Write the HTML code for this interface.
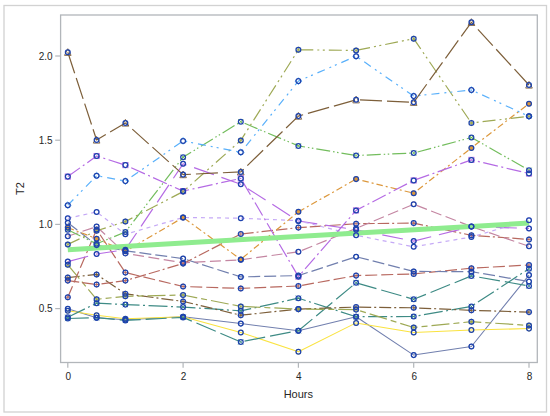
<!DOCTYPE html>
<html lang="en">
<head>
<meta charset="utf-8">
<title>T2 by Hours</title>
<style>
html,body{margin:0;padding:0;background:#fff;}
body{width:550px;height:416px;overflow:hidden;}
svg{display:block;}
</style>
</head>
<body>
<svg width="550" height="416" viewBox="0 0 550 416">
<rect x="0" y="0" width="550" height="416" fill="#ffffff"/>
<rect x="4" y="5.5" width="542.5" height="406.5" fill="#ffffff" stroke="#d2d2d2" stroke-width="1.3"/>
<g id="series" fill="none" stroke-linejoin="round">
<polyline points="67.8,308.8 96.6,317.7 125.4,319.7 183.1,316.7 240.8,323.6 298.4,330.7 356.1,316.7 413.7,355.1 471.4,346.5 529.0,275.1" stroke="#717fae" stroke-width="1.05"/>
<polyline points="67.8,310.8 96.6,315.2 125.4,318.7 183.1,316.7 240.8,332.5 298.4,351.7 356.1,322.9 413.7,332.5 471.4,330.0 529.0,328.6" stroke="#fae340" stroke-width="1.05"/>
<polyline points="67.8,318.5 96.6,317.7 125.4,320.4 183.1,317.4 240.8,341.9 298.4,330.7 356.1,282.8 413.7,299.3 471.4,275.9 529.0,285.9" stroke="#3e8b85" stroke-width="1.2" stroke-dasharray="21 5"/>
<polyline points="67.8,317.2 96.6,303.2 125.4,304.6 183.1,307.1 240.8,310.8 298.4,298.2 356.1,316.7 413.7,316.5 471.4,306.4 529.0,268.7" stroke="#3e8b85" stroke-width="1.2" stroke-dasharray="19 3.5 2 3.5"/>
<polyline points="67.8,277.6 96.6,274.4 125.4,293.8 183.1,301.4 240.8,315.2 298.4,309.1 356.1,307.1 413.7,307.8 471.4,310.3 529.0,312.1" stroke="#7d5f3a" stroke-width="1.2" stroke-dasharray="12 3 2 3"/>
<polyline points="67.8,264.8 96.6,299.3 125.4,296.3 183.1,295.0 240.8,306.4 298.4,309.1 356.1,309.6 413.7,327.5 471.4,321.7 529.0,325.4" stroke="#9ea955" stroke-width="1.2" stroke-dasharray="18 4 6 4"/>
<polyline points="67.8,297.3 96.6,229.5 125.4,272.6 183.1,286.5 240.8,288.4 298.4,286.0 356.1,275.6 413.7,273.9 471.4,268.2 529.0,265.0" stroke="#b86960" stroke-width="1.2" stroke-dasharray="12 4"/>
<polyline points="67.8,222.7 96.6,245.1 125.4,250.8 183.1,258.6 240.8,276.9 298.4,275.6 356.1,256.7 413.7,271.4 471.4,271.7 529.0,281.5" stroke="#717fae" stroke-width="1.2" stroke-dasharray="12 4"/>
<polyline points="67.8,280.6 96.6,284.5 125.4,280.6 183.1,263.6 240.8,234.0 298.4,227.6 356.1,223.7 413.7,223.1 471.4,235.3 529.0,239.4" stroke="#b86960" stroke-width="1.2" stroke-dasharray="11.5 3 11.5 3 2 3"/>
<polyline points="67.8,236.2 96.6,226.6 125.4,253.4 183.1,262.8 240.8,259.8 298.4,251.8 356.1,228.4 413.7,204.2 471.4,226.6 529.0,246.3" stroke="#c486a2" stroke-width="1.2" stroke-dasharray="11 4.5"/>
<polyline points="67.8,261.6 96.6,254.0 125.4,249.7 183.1,163.8 240.8,184.2 298.4,221.0 356.1,229.8 413.7,241.1 471.4,226.6 529.0,228.4" stroke="#b56be4" stroke-width="1.2" stroke-dasharray="21 8"/>
<polyline points="67.8,218.3 96.6,211.9 125.4,234.3 183.1,217.5 240.8,218.2 298.4,220.7 356.1,235.3 413.7,246.8 471.4,237.0 529.0,220.2" stroke="#c5a9f6" stroke-width="1.2" stroke-dasharray="4 4"/>
<polyline points="67.8,227.6 96.6,238.7 125.4,251.3 183.1,217.5 240.8,259.4 298.4,211.8 356.1,179.1 413.7,193.2 471.4,147.9 529.0,103.7" stroke="#dc983d" stroke-width="1.2" stroke-dasharray="6.5 3 2 3"/>
<polyline points="67.8,229.8 96.6,243.8 125.4,232.0 183.1,157.2 240.8,121.7 298.4,145.9 356.1,155.5 413.7,153.0 471.4,137.5 529.0,170.2" stroke="#73bd5d" stroke-width="1.2" stroke-dasharray="14 3 1.5 2.5 1.5 3"/>
<polyline points="67.8,244.4 96.6,230.8 125.4,221.5 183.1,191.6 240.8,140.4 298.4,49.8 356.1,50.4 413.7,38.7 471.4,123.0 529.0,116.3" stroke="#9ea955" stroke-width="1.2" stroke-dasharray="13 4 2 3.5 2 4"/>
<polyline points="67.8,205.2 96.6,175.7 125.4,181.1 183.1,140.9 240.8,152.3 298.4,81.1 356.1,56.2 413.7,96.1 471.4,90.0 529.0,116.3" stroke="#59b0fb" stroke-width="1.2" stroke-dasharray="8 5 2 4 2 5"/>
<polyline points="67.8,52.3 96.6,140.0 125.4,123.0 183.1,174.6 240.8,171.9 298.4,116.1 356.1,99.8 413.7,102.3 471.4,22.3 529.0,85.0" stroke="#7d5f3a" stroke-width="1.2" stroke-dasharray="22 5"/>
<polyline points="67.8,176.6 96.6,156.0 125.4,165.1 183.1,191.1 240.8,178.4 298.4,276.6 356.1,210.4 413.7,180.4 471.4,159.9 529.0,173.5" stroke="#b56be4" stroke-width="1.2" stroke-dasharray="15 3.5 2 3.5"/>
</g>
<line x1="67.8" y1="249.7" x2="529.0" y2="223.1" stroke="#8fec8f" stroke-width="5" stroke-linecap="butt"/>
<g id="markers">
<circle cx="67.8" cy="308.8" r="2.4" fill="none" stroke="#717fae" stroke-width="0.9"/>
<circle cx="96.6" cy="317.7" r="2.4" fill="none" stroke="#717fae" stroke-width="0.9"/>
<circle cx="125.4" cy="319.7" r="2.4" fill="none" stroke="#717fae" stroke-width="0.9"/>
<circle cx="183.1" cy="316.7" r="2.4" fill="none" stroke="#717fae" stroke-width="0.9"/>
<circle cx="240.8" cy="323.6" r="2.4" fill="none" stroke="#717fae" stroke-width="0.9"/>
<circle cx="298.4" cy="330.7" r="2.4" fill="none" stroke="#717fae" stroke-width="0.9"/>
<circle cx="356.1" cy="316.7" r="2.4" fill="none" stroke="#717fae" stroke-width="0.9"/>
<circle cx="413.7" cy="355.1" r="2.4" fill="none" stroke="#717fae" stroke-width="0.9"/>
<circle cx="471.4" cy="346.5" r="2.4" fill="none" stroke="#717fae" stroke-width="0.9"/>
<circle cx="529.0" cy="275.1" r="2.4" fill="none" stroke="#717fae" stroke-width="0.9"/>
<circle cx="67.8" cy="310.8" r="2.4" fill="none" stroke="#fae340" stroke-width="0.9"/>
<circle cx="96.6" cy="315.2" r="2.4" fill="none" stroke="#fae340" stroke-width="0.9"/>
<circle cx="125.4" cy="318.7" r="2.4" fill="none" stroke="#fae340" stroke-width="0.9"/>
<circle cx="183.1" cy="316.7" r="2.4" fill="none" stroke="#fae340" stroke-width="0.9"/>
<circle cx="240.8" cy="332.5" r="2.4" fill="none" stroke="#fae340" stroke-width="0.9"/>
<circle cx="298.4" cy="351.7" r="2.4" fill="none" stroke="#fae340" stroke-width="0.9"/>
<circle cx="356.1" cy="322.9" r="2.4" fill="none" stroke="#fae340" stroke-width="0.9"/>
<circle cx="413.7" cy="332.5" r="2.4" fill="none" stroke="#fae340" stroke-width="0.9"/>
<circle cx="471.4" cy="330.0" r="2.4" fill="none" stroke="#fae340" stroke-width="0.9"/>
<circle cx="529.0" cy="328.6" r="2.4" fill="none" stroke="#fae340" stroke-width="0.9"/>
<path d="M65.2 315.9L70.4 321.1M65.2 321.1L70.4 315.9" stroke="#3e8b85" stroke-width="0.9" fill="none"/>
<path d="M94.0 315.1L99.2 320.3M94.0 320.3L99.2 315.1" stroke="#3e8b85" stroke-width="0.9" fill="none"/>
<path d="M122.8 317.8L128.0 323.0M122.8 323.0L128.0 317.8" stroke="#3e8b85" stroke-width="0.9" fill="none"/>
<path d="M180.5 314.8L185.7 320.0M180.5 320.0L185.7 314.8" stroke="#3e8b85" stroke-width="0.9" fill="none"/>
<path d="M238.2 339.3L243.3 344.5M238.2 344.5L243.3 339.3" stroke="#3e8b85" stroke-width="0.9" fill="none"/>
<path d="M295.8 328.1L301.0 333.3M295.8 333.3L301.0 328.1" stroke="#3e8b85" stroke-width="0.9" fill="none"/>
<path d="M353.4 280.2L358.7 285.4M353.4 285.4L358.7 280.2" stroke="#3e8b85" stroke-width="0.9" fill="none"/>
<path d="M411.1 296.7L416.3 301.9M411.1 301.9L416.3 296.7" stroke="#3e8b85" stroke-width="0.9" fill="none"/>
<path d="M468.8 273.3L474.0 278.5M468.8 278.5L474.0 273.3" stroke="#3e8b85" stroke-width="0.9" fill="none"/>
<path d="M526.4 283.3L531.6 288.5M526.4 288.5L531.6 283.3" stroke="#3e8b85" stroke-width="0.9" fill="none"/>
<path d="M65.2 314.6L70.4 319.8M65.2 319.8L70.4 314.6" stroke="#3e8b85" stroke-width="0.9" fill="none"/>
<path d="M94.0 300.6L99.2 305.8M94.0 305.8L99.2 300.6" stroke="#3e8b85" stroke-width="0.9" fill="none"/>
<path d="M122.8 302.0L128.0 307.2M122.8 307.2L128.0 302.0" stroke="#3e8b85" stroke-width="0.9" fill="none"/>
<path d="M180.5 304.5L185.7 309.7M180.5 309.7L185.7 304.5" stroke="#3e8b85" stroke-width="0.9" fill="none"/>
<path d="M238.2 308.2L243.3 313.4M238.2 313.4L243.3 308.2" stroke="#3e8b85" stroke-width="0.9" fill="none"/>
<path d="M295.8 295.6L301.0 300.8M295.8 300.8L301.0 295.6" stroke="#3e8b85" stroke-width="0.9" fill="none"/>
<path d="M353.4 314.1L358.7 319.3M353.4 319.3L358.7 314.1" stroke="#3e8b85" stroke-width="0.9" fill="none"/>
<path d="M411.1 313.9L416.3 319.1M411.1 319.1L416.3 313.9" stroke="#3e8b85" stroke-width="0.9" fill="none"/>
<path d="M468.8 303.8L474.0 309.0M468.8 309.0L474.0 303.8" stroke="#3e8b85" stroke-width="0.9" fill="none"/>
<path d="M526.4 266.1L531.6 271.3M526.4 271.3L531.6 266.1" stroke="#3e8b85" stroke-width="0.9" fill="none"/>
<path d="M64.7 277.6H70.9M67.8 274.5V280.7" stroke="#7d5f3a" stroke-width="0.9" fill="none"/>
<path d="M93.5 274.4H99.7M96.6 271.3V277.5" stroke="#7d5f3a" stroke-width="0.9" fill="none"/>
<path d="M122.3 293.8H128.5M125.4 290.7V296.9" stroke="#7d5f3a" stroke-width="0.9" fill="none"/>
<path d="M180.0 301.4H186.2M183.1 298.3V304.5" stroke="#7d5f3a" stroke-width="0.9" fill="none"/>
<path d="M237.7 315.2H243.8M240.8 312.1V318.3" stroke="#7d5f3a" stroke-width="0.9" fill="none"/>
<path d="M295.3 309.1H301.5M298.4 306.0V312.2" stroke="#7d5f3a" stroke-width="0.9" fill="none"/>
<path d="M352.9 307.1H359.2M356.1 304.0V310.2" stroke="#7d5f3a" stroke-width="0.9" fill="none"/>
<path d="M410.6 307.8H416.8M413.7 304.7V310.9" stroke="#7d5f3a" stroke-width="0.9" fill="none"/>
<path d="M468.2 310.3H474.5M471.4 307.2V313.4" stroke="#7d5f3a" stroke-width="0.9" fill="none"/>
<path d="M525.9 312.1H532.1M529.0 309.0V315.2" stroke="#7d5f3a" stroke-width="0.9" fill="none"/>
<path d="M67.8 261.7V267.9M65.1 263.3L70.5 266.4M65.1 266.4L70.5 263.3" stroke="#9ea955" stroke-width="0.9" fill="none"/>
<path d="M96.6 296.2V302.4M93.9 297.8L99.3 300.9M93.9 300.9L99.3 297.8" stroke="#9ea955" stroke-width="0.9" fill="none"/>
<path d="M125.4 293.2V299.4M122.7 294.8L128.1 297.9M122.7 297.9L128.1 294.8" stroke="#9ea955" stroke-width="0.9" fill="none"/>
<path d="M183.1 291.9V298.1M180.4 293.4L185.8 296.5M180.4 296.5L185.8 293.4" stroke="#9ea955" stroke-width="0.9" fill="none"/>
<path d="M240.8 303.3V309.5M238.1 304.9L243.4 308.0M238.1 308.0L243.4 304.9" stroke="#9ea955" stroke-width="0.9" fill="none"/>
<path d="M298.4 306.0V312.2M295.7 307.6L301.1 310.7M295.7 310.7L301.1 307.6" stroke="#9ea955" stroke-width="0.9" fill="none"/>
<path d="M356.1 306.5V312.7M353.4 308.1L358.8 311.2M353.4 311.2L358.8 308.1" stroke="#9ea955" stroke-width="0.9" fill="none"/>
<path d="M413.7 324.4V330.6M411.0 325.9L416.4 329.0M411.0 329.0L416.4 325.9" stroke="#9ea955" stroke-width="0.9" fill="none"/>
<path d="M471.4 318.6V324.8M468.7 320.2L474.1 323.3M468.7 323.3L474.1 320.2" stroke="#9ea955" stroke-width="0.9" fill="none"/>
<path d="M529.0 322.3V328.5M526.3 323.9L531.7 327.0M526.3 327.0L531.7 323.9" stroke="#9ea955" stroke-width="0.9" fill="none"/>
<path d="M64.7 297.3H70.9M67.8 294.2V300.4" stroke="#b86960" stroke-width="0.9" fill="none"/>
<path d="M93.5 229.5H99.7M96.6 226.4V232.6" stroke="#b86960" stroke-width="0.9" fill="none"/>
<path d="M122.3 272.6H128.5M125.4 269.5V275.7" stroke="#b86960" stroke-width="0.9" fill="none"/>
<path d="M180.0 286.5H186.2M183.1 283.4V289.6" stroke="#b86960" stroke-width="0.9" fill="none"/>
<path d="M237.7 288.4H243.8M240.8 285.3V291.5" stroke="#b86960" stroke-width="0.9" fill="none"/>
<path d="M295.3 286.0H301.5M298.4 282.9V289.1" stroke="#b86960" stroke-width="0.9" fill="none"/>
<path d="M352.9 275.6H359.2M356.1 272.5V278.7" stroke="#b86960" stroke-width="0.9" fill="none"/>
<path d="M410.6 273.9H416.8M413.7 270.8V277.0" stroke="#b86960" stroke-width="0.9" fill="none"/>
<path d="M468.2 268.2H474.5M471.4 265.1V271.3" stroke="#b86960" stroke-width="0.9" fill="none"/>
<path d="M525.9 265.0H532.1M529.0 261.9V268.1" stroke="#b86960" stroke-width="0.9" fill="none"/>
<circle cx="67.8" cy="222.7" r="2.4" fill="none" stroke="#717fae" stroke-width="0.9"/>
<circle cx="96.6" cy="245.1" r="2.4" fill="none" stroke="#717fae" stroke-width="0.9"/>
<circle cx="125.4" cy="250.8" r="2.4" fill="none" stroke="#717fae" stroke-width="0.9"/>
<circle cx="183.1" cy="258.6" r="2.4" fill="none" stroke="#717fae" stroke-width="0.9"/>
<circle cx="240.8" cy="276.9" r="2.4" fill="none" stroke="#717fae" stroke-width="0.9"/>
<circle cx="298.4" cy="275.6" r="2.4" fill="none" stroke="#717fae" stroke-width="0.9"/>
<circle cx="356.1" cy="256.7" r="2.4" fill="none" stroke="#717fae" stroke-width="0.9"/>
<circle cx="413.7" cy="271.4" r="2.4" fill="none" stroke="#717fae" stroke-width="0.9"/>
<circle cx="471.4" cy="271.7" r="2.4" fill="none" stroke="#717fae" stroke-width="0.9"/>
<circle cx="529.0" cy="281.5" r="2.4" fill="none" stroke="#717fae" stroke-width="0.9"/>
<path d="M64.7 280.6H70.9M67.8 277.5V283.7" stroke="#b86960" stroke-width="0.9" fill="none"/>
<path d="M93.5 284.5H99.7M96.6 281.4V287.6" stroke="#b86960" stroke-width="0.9" fill="none"/>
<path d="M122.3 280.6H128.5M125.4 277.5V283.7" stroke="#b86960" stroke-width="0.9" fill="none"/>
<path d="M180.0 263.6H186.2M183.1 260.5V266.7" stroke="#b86960" stroke-width="0.9" fill="none"/>
<path d="M237.7 234.0H243.8M240.8 230.9V237.1" stroke="#b86960" stroke-width="0.9" fill="none"/>
<path d="M295.3 227.6H301.5M298.4 224.5V230.7" stroke="#b86960" stroke-width="0.9" fill="none"/>
<path d="M352.9 223.7H359.2M356.1 220.6V226.8" stroke="#b86960" stroke-width="0.9" fill="none"/>
<path d="M410.6 223.1H416.8M413.7 220.0V226.2" stroke="#b86960" stroke-width="0.9" fill="none"/>
<path d="M468.2 235.3H474.5M471.4 232.2V238.4" stroke="#b86960" stroke-width="0.9" fill="none"/>
<path d="M525.9 239.4H532.1M529.0 236.3V242.5" stroke="#b86960" stroke-width="0.9" fill="none"/>
<circle cx="67.8" cy="236.2" r="2.4" fill="none" stroke="#c486a2" stroke-width="0.9"/>
<circle cx="96.6" cy="226.6" r="2.4" fill="none" stroke="#c486a2" stroke-width="0.9"/>
<circle cx="125.4" cy="253.4" r="2.4" fill="none" stroke="#c486a2" stroke-width="0.9"/>
<circle cx="183.1" cy="262.8" r="2.4" fill="none" stroke="#c486a2" stroke-width="0.9"/>
<circle cx="240.8" cy="259.8" r="2.4" fill="none" stroke="#c486a2" stroke-width="0.9"/>
<circle cx="298.4" cy="251.8" r="2.4" fill="none" stroke="#c486a2" stroke-width="0.9"/>
<circle cx="356.1" cy="228.4" r="2.4" fill="none" stroke="#c486a2" stroke-width="0.9"/>
<circle cx="413.7" cy="204.2" r="2.4" fill="none" stroke="#c486a2" stroke-width="0.9"/>
<circle cx="471.4" cy="226.6" r="2.4" fill="none" stroke="#c486a2" stroke-width="0.9"/>
<circle cx="529.0" cy="246.3" r="2.4" fill="none" stroke="#c486a2" stroke-width="0.9"/>
<circle cx="67.8" cy="261.6" r="2.4" fill="none" stroke="#b56be4" stroke-width="0.9"/>
<circle cx="96.6" cy="254.0" r="2.4" fill="none" stroke="#b56be4" stroke-width="0.9"/>
<circle cx="125.4" cy="249.7" r="2.4" fill="none" stroke="#b56be4" stroke-width="0.9"/>
<circle cx="183.1" cy="163.8" r="2.4" fill="none" stroke="#b56be4" stroke-width="0.9"/>
<circle cx="240.8" cy="184.2" r="2.4" fill="none" stroke="#b56be4" stroke-width="0.9"/>
<circle cx="298.4" cy="221.0" r="2.4" fill="none" stroke="#b56be4" stroke-width="0.9"/>
<circle cx="356.1" cy="229.8" r="2.4" fill="none" stroke="#b56be4" stroke-width="0.9"/>
<circle cx="413.7" cy="241.1" r="2.4" fill="none" stroke="#b56be4" stroke-width="0.9"/>
<circle cx="471.4" cy="226.6" r="2.4" fill="none" stroke="#b56be4" stroke-width="0.9"/>
<circle cx="529.0" cy="228.4" r="2.4" fill="none" stroke="#b56be4" stroke-width="0.9"/>
<circle cx="67.8" cy="218.3" r="2.4" fill="none" stroke="#c5a9f6" stroke-width="0.9"/>
<circle cx="96.6" cy="211.9" r="2.4" fill="none" stroke="#c5a9f6" stroke-width="0.9"/>
<circle cx="125.4" cy="234.3" r="2.4" fill="none" stroke="#c5a9f6" stroke-width="0.9"/>
<circle cx="183.1" cy="217.5" r="2.4" fill="none" stroke="#c5a9f6" stroke-width="0.9"/>
<circle cx="240.8" cy="218.2" r="2.4" fill="none" stroke="#c5a9f6" stroke-width="0.9"/>
<circle cx="298.4" cy="220.7" r="2.4" fill="none" stroke="#c5a9f6" stroke-width="0.9"/>
<circle cx="356.1" cy="235.3" r="2.4" fill="none" stroke="#c5a9f6" stroke-width="0.9"/>
<circle cx="413.7" cy="246.8" r="2.4" fill="none" stroke="#c5a9f6" stroke-width="0.9"/>
<circle cx="471.4" cy="237.0" r="2.4" fill="none" stroke="#c5a9f6" stroke-width="0.9"/>
<circle cx="529.0" cy="220.2" r="2.4" fill="none" stroke="#c5a9f6" stroke-width="0.9"/>
<circle cx="67.8" cy="227.6" r="2.4" fill="#dc983d" stroke="#dc983d" stroke-width="0.9"/>
<circle cx="96.6" cy="238.7" r="2.4" fill="#dc983d" stroke="#dc983d" stroke-width="0.9"/>
<circle cx="125.4" cy="251.3" r="2.4" fill="#dc983d" stroke="#dc983d" stroke-width="0.9"/>
<circle cx="183.1" cy="217.5" r="2.4" fill="#dc983d" stroke="#dc983d" stroke-width="0.9"/>
<circle cx="240.8" cy="259.4" r="2.4" fill="#dc983d" stroke="#dc983d" stroke-width="0.9"/>
<circle cx="298.4" cy="211.8" r="2.4" fill="#dc983d" stroke="#dc983d" stroke-width="0.9"/>
<circle cx="356.1" cy="179.1" r="2.4" fill="#dc983d" stroke="#dc983d" stroke-width="0.9"/>
<circle cx="413.7" cy="193.2" r="2.4" fill="#dc983d" stroke="#dc983d" stroke-width="0.9"/>
<circle cx="471.4" cy="147.9" r="2.4" fill="#dc983d" stroke="#dc983d" stroke-width="0.9"/>
<circle cx="529.0" cy="103.7" r="2.4" fill="#dc983d" stroke="#dc983d" stroke-width="0.9"/>
<path d="M65.2 227.2L70.4 232.4M65.2 232.4L70.4 227.2" stroke="#73bd5d" stroke-width="0.9" fill="none"/>
<path d="M94.0 241.2L99.2 246.4M94.0 246.4L99.2 241.2" stroke="#73bd5d" stroke-width="0.9" fill="none"/>
<path d="M122.8 229.4L128.0 234.6M122.8 234.6L128.0 229.4" stroke="#73bd5d" stroke-width="0.9" fill="none"/>
<path d="M180.5 154.6L185.7 159.8M180.5 159.8L185.7 154.6" stroke="#73bd5d" stroke-width="0.9" fill="none"/>
<path d="M238.2 119.1L243.3 124.3M238.2 124.3L243.3 119.1" stroke="#73bd5d" stroke-width="0.9" fill="none"/>
<path d="M295.8 143.3L301.0 148.5M295.8 148.5L301.0 143.3" stroke="#73bd5d" stroke-width="0.9" fill="none"/>
<path d="M353.4 152.9L358.7 158.1M353.4 158.1L358.7 152.9" stroke="#73bd5d" stroke-width="0.9" fill="none"/>
<path d="M411.1 150.4L416.3 155.6M411.1 155.6L416.3 150.4" stroke="#73bd5d" stroke-width="0.9" fill="none"/>
<path d="M468.8 134.9L474.0 140.1M468.8 140.1L474.0 134.9" stroke="#73bd5d" stroke-width="0.9" fill="none"/>
<path d="M526.4 167.6L531.6 172.8M526.4 172.8L531.6 167.6" stroke="#73bd5d" stroke-width="0.9" fill="none"/>
<path d="M67.8 241.3V247.5M65.1 242.9L70.5 246.0M65.1 246.0L70.5 242.9" stroke="#9ea955" stroke-width="0.9" fill="none"/>
<path d="M96.6 227.7V233.9M93.9 229.2L99.3 232.3M93.9 232.3L99.3 229.2" stroke="#9ea955" stroke-width="0.9" fill="none"/>
<path d="M125.4 218.4V224.6M122.7 220.0L128.1 223.1M122.7 223.1L128.1 220.0" stroke="#9ea955" stroke-width="0.9" fill="none"/>
<path d="M183.1 188.5V194.7M180.4 190.0L185.8 193.1M180.4 193.1L185.8 190.0" stroke="#9ea955" stroke-width="0.9" fill="none"/>
<path d="M240.8 137.3V143.5M238.1 138.8L243.4 141.9M238.1 141.9L243.4 138.8" stroke="#9ea955" stroke-width="0.9" fill="none"/>
<path d="M298.4 46.7V52.9M295.7 48.2L301.1 51.3M295.7 51.3L301.1 48.2" stroke="#9ea955" stroke-width="0.9" fill="none"/>
<path d="M356.1 47.3V53.5M353.4 48.9L358.8 52.0M353.4 52.0L358.8 48.9" stroke="#9ea955" stroke-width="0.9" fill="none"/>
<path d="M413.7 35.6V41.8M411.0 37.1L416.4 40.2M411.0 40.2L416.4 37.1" stroke="#9ea955" stroke-width="0.9" fill="none"/>
<path d="M471.4 119.9V126.1M468.7 121.5L474.1 124.6M468.7 124.6L474.1 121.5" stroke="#9ea955" stroke-width="0.9" fill="none"/>
<path d="M529.0 113.2V119.4M526.3 114.7L531.7 117.8M526.3 117.8L531.7 114.7" stroke="#9ea955" stroke-width="0.9" fill="none"/>
<path d="M67.8 201.8L71.2 205.2L67.8 208.6L64.4 205.2Z" stroke="#59b0fb" stroke-width="0.9" fill="none"/>
<path d="M96.6 172.3L100.0 175.7L96.6 179.1L93.2 175.7Z" stroke="#59b0fb" stroke-width="0.9" fill="none"/>
<path d="M125.4 177.7L128.8 181.1L125.4 184.5L122.0 181.1Z" stroke="#59b0fb" stroke-width="0.9" fill="none"/>
<path d="M183.1 137.5L186.5 140.9L183.1 144.3L179.7 140.9Z" stroke="#59b0fb" stroke-width="0.9" fill="none"/>
<path d="M240.8 148.9L244.2 152.3L240.8 155.7L237.3 152.3Z" stroke="#59b0fb" stroke-width="0.9" fill="none"/>
<path d="M298.4 77.7L301.8 81.1L298.4 84.5L295.0 81.1Z" stroke="#59b0fb" stroke-width="0.9" fill="none"/>
<path d="M356.1 52.8L359.4 56.2L356.1 59.6L352.7 56.2Z" stroke="#59b0fb" stroke-width="0.9" fill="none"/>
<path d="M413.7 92.7L417.1 96.1L413.7 99.5L410.3 96.1Z" stroke="#59b0fb" stroke-width="0.9" fill="none"/>
<path d="M471.4 86.6L474.8 90.0L471.4 93.4L468.0 90.0Z" stroke="#59b0fb" stroke-width="0.9" fill="none"/>
<path d="M529.0 112.9L532.4 116.3L529.0 119.7L525.6 116.3Z" stroke="#59b0fb" stroke-width="0.9" fill="none"/>
<path d="M67.8 48.7L71.1 55.4H64.5Z" stroke="#7d5f3a" stroke-width="0.9" fill="none"/>
<path d="M96.6 136.4L99.9 143.1H93.3Z" stroke="#7d5f3a" stroke-width="0.9" fill="none"/>
<path d="M125.4 119.4L128.8 126.1H122.1Z" stroke="#7d5f3a" stroke-width="0.9" fill="none"/>
<path d="M183.1 171.0L186.4 177.7H179.8Z" stroke="#7d5f3a" stroke-width="0.9" fill="none"/>
<path d="M240.8 168.3L244.1 175.0H237.4Z" stroke="#7d5f3a" stroke-width="0.9" fill="none"/>
<path d="M298.4 112.5L301.7 119.2H295.1Z" stroke="#7d5f3a" stroke-width="0.9" fill="none"/>
<path d="M356.1 96.2L359.4 102.9H352.8Z" stroke="#7d5f3a" stroke-width="0.9" fill="none"/>
<path d="M413.7 98.7L417.0 105.4H410.4Z" stroke="#7d5f3a" stroke-width="0.9" fill="none"/>
<path d="M471.4 18.7L474.7 25.4H468.1Z" stroke="#7d5f3a" stroke-width="0.9" fill="none"/>
<path d="M529.0 81.4L532.3 88.1H525.7Z" stroke="#7d5f3a" stroke-width="0.9" fill="none"/>
<rect x="65.2" y="174.0" width="5.2" height="5.2" stroke="#b56be4" stroke-width="0.9" fill="none"/>
<rect x="94.0" y="153.4" width="5.2" height="5.2" stroke="#b56be4" stroke-width="0.9" fill="none"/>
<rect x="122.8" y="162.5" width="5.2" height="5.2" stroke="#b56be4" stroke-width="0.9" fill="none"/>
<rect x="180.5" y="188.5" width="5.2" height="5.2" stroke="#b56be4" stroke-width="0.9" fill="none"/>
<rect x="238.2" y="175.8" width="5.2" height="5.2" stroke="#b56be4" stroke-width="0.9" fill="none"/>
<rect x="295.8" y="274.0" width="5.2" height="5.2" stroke="#b56be4" stroke-width="0.9" fill="none"/>
<rect x="353.4" y="207.8" width="5.2" height="5.2" stroke="#b56be4" stroke-width="0.9" fill="none"/>
<rect x="411.1" y="177.8" width="5.2" height="5.2" stroke="#b56be4" stroke-width="0.9" fill="none"/>
<rect x="468.8" y="157.3" width="5.2" height="5.2" stroke="#b56be4" stroke-width="0.9" fill="none"/>
<rect x="526.4" y="170.9" width="5.2" height="5.2" stroke="#b56be4" stroke-width="0.9" fill="none"/>
</g>
<g id="scatter" fill="none" stroke="#1d43ad" stroke-width="1.25">
<circle cx="67.8" cy="308.8" r="2.4"/>
<circle cx="96.6" cy="317.7" r="2.4"/>
<circle cx="125.4" cy="319.7" r="2.4"/>
<circle cx="183.1" cy="316.7" r="2.4"/>
<circle cx="240.8" cy="323.6" r="2.4"/>
<circle cx="298.4" cy="330.7" r="2.4"/>
<circle cx="356.1" cy="316.7" r="2.4"/>
<circle cx="413.7" cy="355.1" r="2.4"/>
<circle cx="471.4" cy="346.5" r="2.4"/>
<circle cx="529.0" cy="275.1" r="2.4"/>
<circle cx="67.8" cy="310.8" r="2.4"/>
<circle cx="96.6" cy="315.2" r="2.4"/>
<circle cx="125.4" cy="318.7" r="2.4"/>
<circle cx="183.1" cy="316.7" r="2.4"/>
<circle cx="240.8" cy="332.5" r="2.4"/>
<circle cx="298.4" cy="351.7" r="2.4"/>
<circle cx="356.1" cy="322.9" r="2.4"/>
<circle cx="413.7" cy="332.5" r="2.4"/>
<circle cx="471.4" cy="330.0" r="2.4"/>
<circle cx="529.0" cy="328.6" r="2.4"/>
<circle cx="67.8" cy="318.5" r="2.4"/>
<circle cx="96.6" cy="317.7" r="2.4"/>
<circle cx="125.4" cy="320.4" r="2.4"/>
<circle cx="183.1" cy="317.4" r="2.4"/>
<circle cx="240.8" cy="341.9" r="2.4"/>
<circle cx="298.4" cy="330.7" r="2.4"/>
<circle cx="356.1" cy="282.8" r="2.4"/>
<circle cx="413.7" cy="299.3" r="2.4"/>
<circle cx="471.4" cy="275.9" r="2.4"/>
<circle cx="529.0" cy="285.9" r="2.4"/>
<circle cx="67.8" cy="317.2" r="2.4"/>
<circle cx="96.6" cy="303.2" r="2.4"/>
<circle cx="125.4" cy="304.6" r="2.4"/>
<circle cx="183.1" cy="307.1" r="2.4"/>
<circle cx="240.8" cy="310.8" r="2.4"/>
<circle cx="298.4" cy="298.2" r="2.4"/>
<circle cx="356.1" cy="316.7" r="2.4"/>
<circle cx="413.7" cy="316.5" r="2.4"/>
<circle cx="471.4" cy="306.4" r="2.4"/>
<circle cx="529.0" cy="268.7" r="2.4"/>
<circle cx="67.8" cy="277.6" r="2.4"/>
<circle cx="96.6" cy="274.4" r="2.4"/>
<circle cx="125.4" cy="293.8" r="2.4"/>
<circle cx="183.1" cy="301.4" r="2.4"/>
<circle cx="240.8" cy="315.2" r="2.4"/>
<circle cx="298.4" cy="309.1" r="2.4"/>
<circle cx="356.1" cy="307.1" r="2.4"/>
<circle cx="413.7" cy="307.8" r="2.4"/>
<circle cx="471.4" cy="310.3" r="2.4"/>
<circle cx="529.0" cy="312.1" r="2.4"/>
<circle cx="67.8" cy="264.8" r="2.4"/>
<circle cx="96.6" cy="299.3" r="2.4"/>
<circle cx="125.4" cy="296.3" r="2.4"/>
<circle cx="183.1" cy="295.0" r="2.4"/>
<circle cx="240.8" cy="306.4" r="2.4"/>
<circle cx="298.4" cy="309.1" r="2.4"/>
<circle cx="356.1" cy="309.6" r="2.4"/>
<circle cx="413.7" cy="327.5" r="2.4"/>
<circle cx="471.4" cy="321.7" r="2.4"/>
<circle cx="529.0" cy="325.4" r="2.4"/>
<circle cx="67.8" cy="297.3" r="2.4"/>
<circle cx="96.6" cy="229.5" r="2.4"/>
<circle cx="125.4" cy="272.6" r="2.4"/>
<circle cx="183.1" cy="286.5" r="2.4"/>
<circle cx="240.8" cy="288.4" r="2.4"/>
<circle cx="298.4" cy="286.0" r="2.4"/>
<circle cx="356.1" cy="275.6" r="2.4"/>
<circle cx="413.7" cy="273.9" r="2.4"/>
<circle cx="471.4" cy="268.2" r="2.4"/>
<circle cx="529.0" cy="265.0" r="2.4"/>
<circle cx="67.8" cy="222.7" r="2.4"/>
<circle cx="96.6" cy="245.1" r="2.4"/>
<circle cx="125.4" cy="250.8" r="2.4"/>
<circle cx="183.1" cy="258.6" r="2.4"/>
<circle cx="240.8" cy="276.9" r="2.4"/>
<circle cx="298.4" cy="275.6" r="2.4"/>
<circle cx="356.1" cy="256.7" r="2.4"/>
<circle cx="413.7" cy="271.4" r="2.4"/>
<circle cx="471.4" cy="271.7" r="2.4"/>
<circle cx="529.0" cy="281.5" r="2.4"/>
<circle cx="67.8" cy="280.6" r="2.4"/>
<circle cx="96.6" cy="284.5" r="2.4"/>
<circle cx="125.4" cy="280.6" r="2.4"/>
<circle cx="183.1" cy="263.6" r="2.4"/>
<circle cx="240.8" cy="234.0" r="2.4"/>
<circle cx="298.4" cy="227.6" r="2.4"/>
<circle cx="356.1" cy="223.7" r="2.4"/>
<circle cx="413.7" cy="223.1" r="2.4"/>
<circle cx="471.4" cy="235.3" r="2.4"/>
<circle cx="529.0" cy="239.4" r="2.4"/>
<circle cx="67.8" cy="236.2" r="2.4"/>
<circle cx="96.6" cy="226.6" r="2.4"/>
<circle cx="125.4" cy="253.4" r="2.4"/>
<circle cx="183.1" cy="262.8" r="2.4"/>
<circle cx="240.8" cy="259.8" r="2.4"/>
<circle cx="298.4" cy="251.8" r="2.4"/>
<circle cx="356.1" cy="228.4" r="2.4"/>
<circle cx="413.7" cy="204.2" r="2.4"/>
<circle cx="471.4" cy="226.6" r="2.4"/>
<circle cx="529.0" cy="246.3" r="2.4"/>
<circle cx="67.8" cy="261.6" r="2.4"/>
<circle cx="96.6" cy="254.0" r="2.4"/>
<circle cx="125.4" cy="249.7" r="2.4"/>
<circle cx="183.1" cy="163.8" r="2.4"/>
<circle cx="240.8" cy="184.2" r="2.4"/>
<circle cx="298.4" cy="221.0" r="2.4"/>
<circle cx="356.1" cy="229.8" r="2.4"/>
<circle cx="413.7" cy="241.1" r="2.4"/>
<circle cx="471.4" cy="226.6" r="2.4"/>
<circle cx="529.0" cy="228.4" r="2.4"/>
<circle cx="67.8" cy="218.3" r="2.4"/>
<circle cx="96.6" cy="211.9" r="2.4"/>
<circle cx="125.4" cy="234.3" r="2.4"/>
<circle cx="183.1" cy="217.5" r="2.4"/>
<circle cx="240.8" cy="218.2" r="2.4"/>
<circle cx="298.4" cy="220.7" r="2.4"/>
<circle cx="356.1" cy="235.3" r="2.4"/>
<circle cx="413.7" cy="246.8" r="2.4"/>
<circle cx="471.4" cy="237.0" r="2.4"/>
<circle cx="529.0" cy="220.2" r="2.4"/>
<circle cx="67.8" cy="227.6" r="2.4"/>
<circle cx="96.6" cy="238.7" r="2.4"/>
<circle cx="125.4" cy="251.3" r="2.4"/>
<circle cx="183.1" cy="217.5" r="2.4"/>
<circle cx="240.8" cy="259.4" r="2.4"/>
<circle cx="298.4" cy="211.8" r="2.4"/>
<circle cx="356.1" cy="179.1" r="2.4"/>
<circle cx="413.7" cy="193.2" r="2.4"/>
<circle cx="471.4" cy="147.9" r="2.4"/>
<circle cx="529.0" cy="103.7" r="2.4"/>
<circle cx="67.8" cy="229.8" r="2.4"/>
<circle cx="96.6" cy="243.8" r="2.4"/>
<circle cx="125.4" cy="232.0" r="2.4"/>
<circle cx="183.1" cy="157.2" r="2.4"/>
<circle cx="240.8" cy="121.7" r="2.4"/>
<circle cx="298.4" cy="145.9" r="2.4"/>
<circle cx="356.1" cy="155.5" r="2.4"/>
<circle cx="413.7" cy="153.0" r="2.4"/>
<circle cx="471.4" cy="137.5" r="2.4"/>
<circle cx="529.0" cy="170.2" r="2.4"/>
<circle cx="67.8" cy="244.4" r="2.4"/>
<circle cx="96.6" cy="230.8" r="2.4"/>
<circle cx="125.4" cy="221.5" r="2.4"/>
<circle cx="183.1" cy="191.6" r="2.4"/>
<circle cx="240.8" cy="140.4" r="2.4"/>
<circle cx="298.4" cy="49.8" r="2.4"/>
<circle cx="356.1" cy="50.4" r="2.4"/>
<circle cx="413.7" cy="38.7" r="2.4"/>
<circle cx="471.4" cy="123.0" r="2.4"/>
<circle cx="529.0" cy="116.3" r="2.4"/>
<circle cx="67.8" cy="205.2" r="2.4"/>
<circle cx="96.6" cy="175.7" r="2.4"/>
<circle cx="125.4" cy="181.1" r="2.4"/>
<circle cx="183.1" cy="140.9" r="2.4"/>
<circle cx="240.8" cy="152.3" r="2.4"/>
<circle cx="298.4" cy="81.1" r="2.4"/>
<circle cx="356.1" cy="56.2" r="2.4"/>
<circle cx="413.7" cy="96.1" r="2.4"/>
<circle cx="471.4" cy="90.0" r="2.4"/>
<circle cx="529.0" cy="116.3" r="2.4"/>
<circle cx="67.8" cy="52.3" r="2.4"/>
<circle cx="96.6" cy="140.0" r="2.4"/>
<circle cx="125.4" cy="123.0" r="2.4"/>
<circle cx="183.1" cy="174.6" r="2.4"/>
<circle cx="240.8" cy="171.9" r="2.4"/>
<circle cx="298.4" cy="116.1" r="2.4"/>
<circle cx="356.1" cy="99.8" r="2.4"/>
<circle cx="413.7" cy="102.3" r="2.4"/>
<circle cx="471.4" cy="22.3" r="2.4"/>
<circle cx="529.0" cy="85.0" r="2.4"/>
<circle cx="67.8" cy="176.6" r="2.4"/>
<circle cx="96.6" cy="156.0" r="2.4"/>
<circle cx="125.4" cy="165.1" r="2.4"/>
<circle cx="183.1" cy="191.1" r="2.4"/>
<circle cx="240.8" cy="178.4" r="2.4"/>
<circle cx="298.4" cy="276.6" r="2.4"/>
<circle cx="356.1" cy="210.4" r="2.4"/>
<circle cx="413.7" cy="180.4" r="2.4"/>
<circle cx="471.4" cy="159.9" r="2.4"/>
<circle cx="529.0" cy="173.5" r="2.4"/>
</g>
<rect x="60.6" y="15.0" width="476.7" height="347.5" fill="none" stroke="#b2b6ba" stroke-width="1.3"/>
<g stroke="#b2b6ba" stroke-width="1.2">
<line x1="67.8" y1="363" x2="67.8" y2="367.8"/>
<line x1="183.1" y1="363" x2="183.1" y2="367.8"/>
<line x1="298.4" y1="363" x2="298.4" y2="367.8"/>
<line x1="413.7" y1="363" x2="413.7" y2="367.8"/>
<line x1="529.0" y1="363" x2="529.0" y2="367.8"/>
<line x1="55.2" y1="308.6" x2="60.5" y2="308.6"/>
<line x1="55.2" y1="224.4" x2="60.5" y2="224.4"/>
<line x1="55.2" y1="140.2" x2="60.5" y2="140.2"/>
<line x1="55.2" y1="56.0" x2="60.5" y2="56.0"/>
</g>
<g font-family="'Liberation Sans', Arial, sans-serif" fill="#262626">
<text x="68.3" y="379.6" font-size="10" text-anchor="middle">0</text>
<text x="183.6" y="379.6" font-size="10" text-anchor="middle">2</text>
<text x="298.9" y="379.6" font-size="10" text-anchor="middle">4</text>
<text x="414.2" y="379.6" font-size="10" text-anchor="middle">6</text>
<text x="529.5" y="379.6" font-size="10" text-anchor="middle">8</text>
<text x="52.6" y="312.3" font-size="10" text-anchor="end">0.5</text>
<text x="52.6" y="228.1" font-size="10" text-anchor="end">1.0</text>
<text x="52.6" y="143.9" font-size="10" text-anchor="end">1.5</text>
<text x="52.6" y="59.7" font-size="10" text-anchor="end">2.0</text>
<text x="298.3" y="398.2" font-size="11" text-anchor="middle">Hours</text>
<text transform="translate(23.8 188.6) rotate(-90)" font-size="11" text-anchor="middle">T2</text>
</g>
</svg>
</body>
</html>
